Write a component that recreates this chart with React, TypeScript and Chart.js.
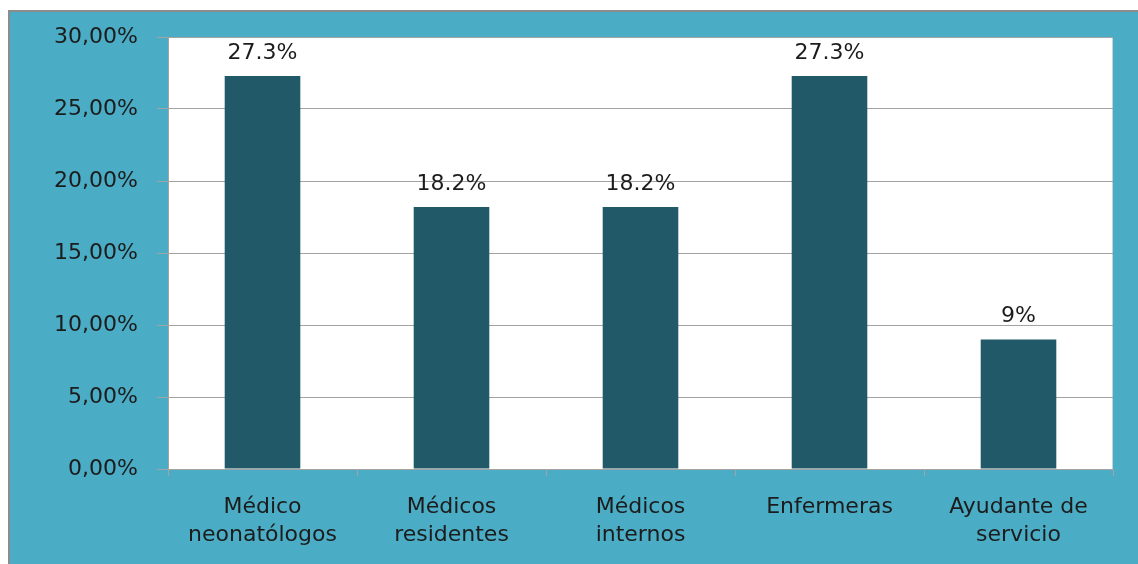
import React, { useEffect, useRef } from "react";
import { Chart, registerables } from "chart.js";

Chart.register(...registerables);

const categories: string[][] = [
  ["Médico", "neonatólogos"],
  ["Médicos", "residentes"],
  ["Médicos", "internos"],
  ["Enfermeras"],
  ["Ayudante de", "servicio"],
];
const values: number[] = [27.3, 18.2, 18.2, 27.3, 9];
const valueLabels: string[] = ["27.3%", "18.2%", "18.2%", "27.3%", "9%"];
const yMin = 0;
const yMax = 30;
const yStep = 5;

const FONT = "'DejaVu Sans', sans-serif";
const TEXT = "#1c1c1c";
const GRID = "#a3a3a3";

const backgroundPlugin = {
  id: "bgBox",
  beforeDraw(chart: any) {
    const ctx = chart.ctx;
    ctx.save();
    ctx.fillStyle = "#4aacc5";
    ctx.fillRect(8, 10, chart.width - 8, chart.height - 10);
    ctx.strokeStyle = "#8c8c8c";
    ctx.lineWidth = 2;
    ctx.beginPath();
    ctx.moveTo(9, chart.height);
    ctx.lineTo(9, 11);
    ctx.lineTo(chart.width, 11);
    ctx.stroke();
    const a = chart.chartArea;
    ctx.fillStyle = "#ffffff";
    ctx.fillRect(a.left, a.top, a.right - a.left, a.bottom - a.top);
    ctx.strokeStyle = "#c9d3d6";
    ctx.lineWidth = 1;
    ctx.beginPath();
    ctx.moveTo(a.right - 0.5, a.top);
    ctx.lineTo(a.right - 0.5, a.bottom);
    ctx.stroke();
    ctx.restore();
  },
};

const valueLabelPlugin = {
  id: "valueLabels",
  afterDatasetsDraw(chart: any) {
    const ctx = chart.ctx;
    const meta = chart.getDatasetMeta(0);
    ctx.save();
    ctx.font = `22px ${FONT}`;
    ctx.fillStyle = TEXT;
    ctx.textAlign = "center";
    ctx.textBaseline = "middle";
    meta.data.forEach((el: any, i: number) => {
      ctx.fillText(valueLabels[i], el.x, el.y - 23);
    });
    ctx.restore();
  },
};

export default function App() {
  const ref = useRef<HTMLCanvasElement>(null);
  useEffect(() => {
    if (!ref.current) return;
    const chart = new Chart(ref.current, {
      type: "bar",
      data: {
        labels: categories,
        datasets: [
          {
            data: values,
            backgroundColor: "#215968",
            borderWidth: 0,
            barPercentage: 0.4,
            categoryPercentage: 1,
          },
        ],
      },
      options: {
        animation: false,
        responsive: false,
        maintainAspectRatio: false,
        layout: { padding: { top: 37, right: 25, left: 0, bottom: 0 } },
        plugins: {
          legend: { display: false },
          tooltip: { enabled: false },
          title: { display: false },
        },
        scales: {
          x: {
            afterFit(scale: any) {
              scale.height = 95;
            },
            grid: {
              offset: true,
              drawOnChartArea: false,
              tickLength: 7,
              color: GRID,
              lineWidth: 1,
            },
            border: { display: true, color: GRID, width: 1 },
            ticks: {
              color: TEXT,
              padding: 17,
              maxRotation: 0,
              autoSkip: false,
              font: { family: FONT, size: 22, lineHeight: 1.27 },
            },
          },
          y: {
            min: yMin,
            max: yMax,
            afterFit(scale: any) {
              scale.width = 168;
            },
            grid: { color: GRID, tickLength: 11, lineWidth: 1 },
            border: { display: true, color: GRID, width: 1 },
            ticks: {
              stepSize: yStep,
              color: TEXT,
              padding: 19,
              font: { family: FONT, size: 22 },
              callback: (v: any) => Number(v).toFixed(2).replace(".", ",") + "%",
            },
          },
        },
      },
      plugins: [backgroundPlugin, valueLabelPlugin],
    });
    return () => chart.destroy();
  }, []);
  return (
    <div style={{ position: "absolute", left: 0, top: 0, width: 1138, height: 564, overflow: "hidden" }}>
      <canvas ref={ref} width={1138} height={564} style={{ display: "block" }} />
    </div>
  );
}
